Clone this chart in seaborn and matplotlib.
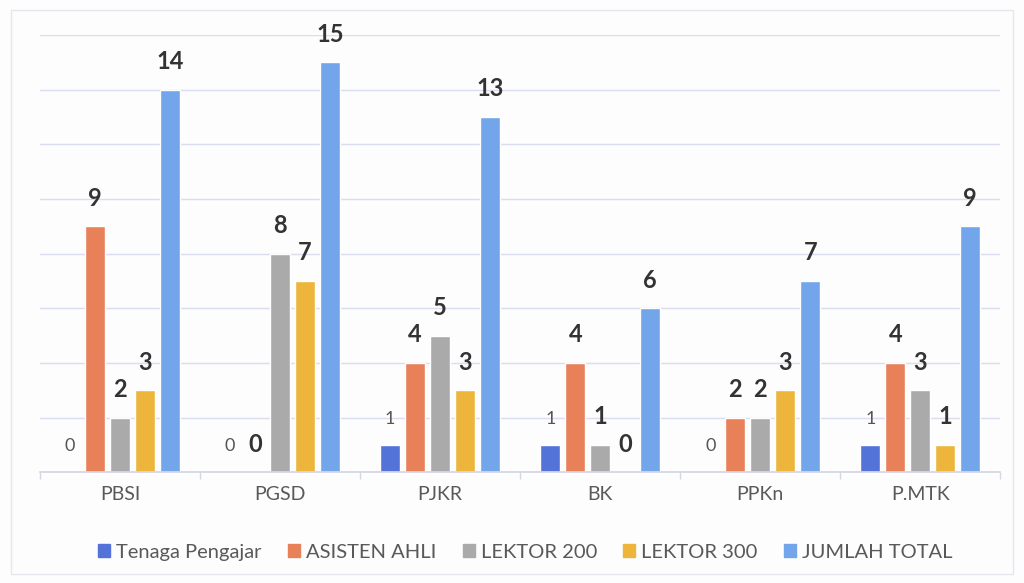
import matplotlib
matplotlib.use("Agg")
import matplotlib.pyplot as plt
import matplotlib.patches as mpatches
import numpy as np
import pandas as pd
import seaborn as sns

# data
prodi = ["PBSI", "PGSD", "PJKR", "BK", "PPKn", "P.MTK"]
tenaga_pengajar = [0, 0, 1, 1, 0, 1]
asisten_ahli = [9, 0, 4, 4, 2, 4]
lektor_200 = [2, 8, 5, 1, 2, 3]
lektor_300 = [3, 7, 3, 0, 3, 1]
jumlah_total = [14, 15, 13, 6, 7, 9]

series = ["Tenaga Pengajar", "ASISTEN AHLI", "LEKTOR 200", "LEKTOR 300", "JUMLAH TOTAL"]
colours = ["#5473D8", "#E8805A", "#AAAAAA", "#EDB53C", "#72A5EA"]

rows = []
for name, vals in zip(series, [tenaga_pengajar, asisten_ahli, lektor_200, lektor_300, jumlah_total]):
    for p, v in zip(prodi, vals):
        rows.append({"prodi": p, "seri": name, "nilai": v})
df = pd.DataFrame(rows)

sns.set_theme(style="white")
plt.rcParams["font.family"] = ["Lato", "DejaVu Sans"]

fig = plt.figure(figsize=(10.24, 5.83), dpi=100)
fig.patch.set_facecolor("#FDFDFD")
ax = fig.add_axes([0.039, 0.19, 0.938, 0.75])
ax.set_facecolor("#FDFDFD")

sns.barplot(data=df, x="prodi", y="nilai", hue="seri", hue_order=series,
            palette=colours, width=0.78, gap=0.2, ax=ax, legend=False,
            saturation=1, errorbar=None)

ax.set_ylim(0, 16)
ax.set_xlim(-0.5, 5.5)
ax.set_yticks(np.arange(0, 17, 2))
ax.yaxis.grid(True, color="#DADDF0", linewidth=1)
ax.set_axisbelow(True)
ax.tick_params(axis="y", left=False, labelleft=False)
ax.set_xlabel("")
ax.set_ylabel("")
for s in ["top", "right", "left"]:
    ax.spines[s].set_visible(False)
ax.spines["bottom"].set_color("#D4D7E4")
ax.tick_params(axis="x", bottom=False, labelsize=14, labelcolor="#595959", pad=4)
ax.set_xticks(np.arange(-0.5, 6, 1), minor=True)
ax.tick_params(axis="x", which="minor", bottom=True, length=5, color="#D4D7E4")

for i, cont in enumerate(ax.containers):
    if i == 0:
        ax.bar_label(cont, padding=13, fontsize=13, color="#555555")
    else:
        ax.bar_label(cont, padding=12, fontsize=17, fontweight="bold", color="#333333")

handles = [mpatches.Patch(color=c, label=n) for c, n in zip(colours, series)]
fig.legend(handles=handles, loc="center", bbox_to_anchor=(0.513, 0.053), ncol=5,
           frameon=False, fontsize=14.5, handlelength=0.6, handleheight=0.6,
           handletextpad=0.3, columnspacing=1.3, labelcolor="#595959")

# faint frame of the scanned page
fig.add_artist(mpatches.Rectangle((0.011, 0.015), 0.978, 0.968, transform=fig.transFigure,
                                  fill=False, edgecolor="#E6E6EE", linewidth=1))

fig.savefig("out.png", dpi=100)
